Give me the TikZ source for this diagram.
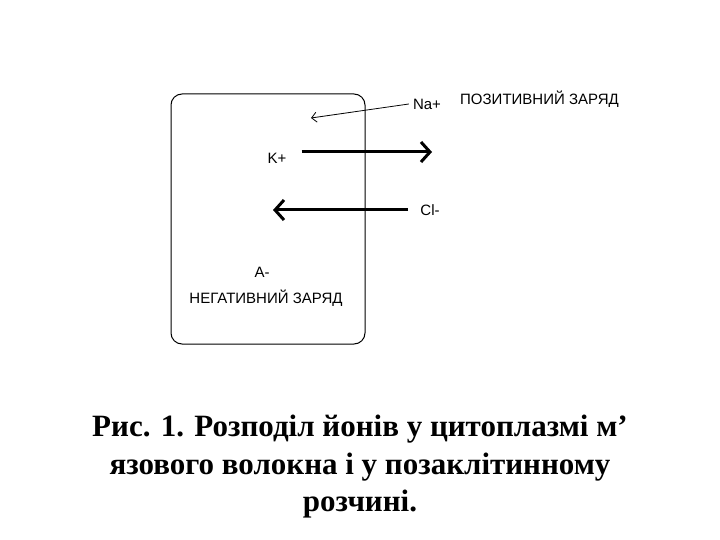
\documentclass[tikz,border=0pt]{standalone}
\usepackage{fontspec}
\setmainfont{Liberation Serif}
\newfontfamily\labelfont{Liberation Sans}
\usetikzlibrary{arrows.meta}
\tikzset{>=Straight Barb}
\tikzset{
  ionlabel/.style={font=\labelfont\fontsize{15}{18}\selectfont, inner sep=0pt},
  bigarrow/.style={->, line width=3pt, >={Straight Barb[length=9pt, width=20pt, line width=3pt]}},
}

\begin{document}
\begin{tikzpicture}[x=1pt, y=-1pt]
    \useasboundingbox (0, 0) rectangle (720, 540);
    % cell
    \draw[line width=1pt, rounded corners=11pt](171, 94) rectangle (365, 344);
    \node[ionlabel](na) at (427, 104){Na+};
    \node[ionlabel, anchor=west](pos) at (460, 99){ПОЗИТИВНИЙ ЗАРЯД};
    \node[ionlabel](k) at (277, 158){K+};
    \node[ionlabel](cl) at (430, 210){Cl-};
    \node[ionlabel](a) at (262, 272){A-};
    \node[ionlabel](neg) at (266, 298){НЕГАТИВНИЙ ЗАРЯД};
    \coordinate (nain) at (311, 118);
    \coordinate (kout) at (432, 152);
    \coordinate (clin) at (273, 210);
    \draw[->, >={Straight Barb[length=5pt, width=10pt, line width=.8pt]}, line width=.8pt](na.west) ++(-4, 0) -- (nain);
    \draw[bigarrow](k.east) ++(15, -6) -- (kout);
    \draw[bigarrow](cl.west) ++(-12, 0) -- (clin);
    % caption
    \node[font=\bfseries\fontsize{31}{37.5}\selectfont, align=center](cap) at (360, 467){Рис. 1. Розподіл йонів у цитоплазмі м’\\язового волокна і у позаклітинному\\розчині.};
\end{tikzpicture}
\end{document}
